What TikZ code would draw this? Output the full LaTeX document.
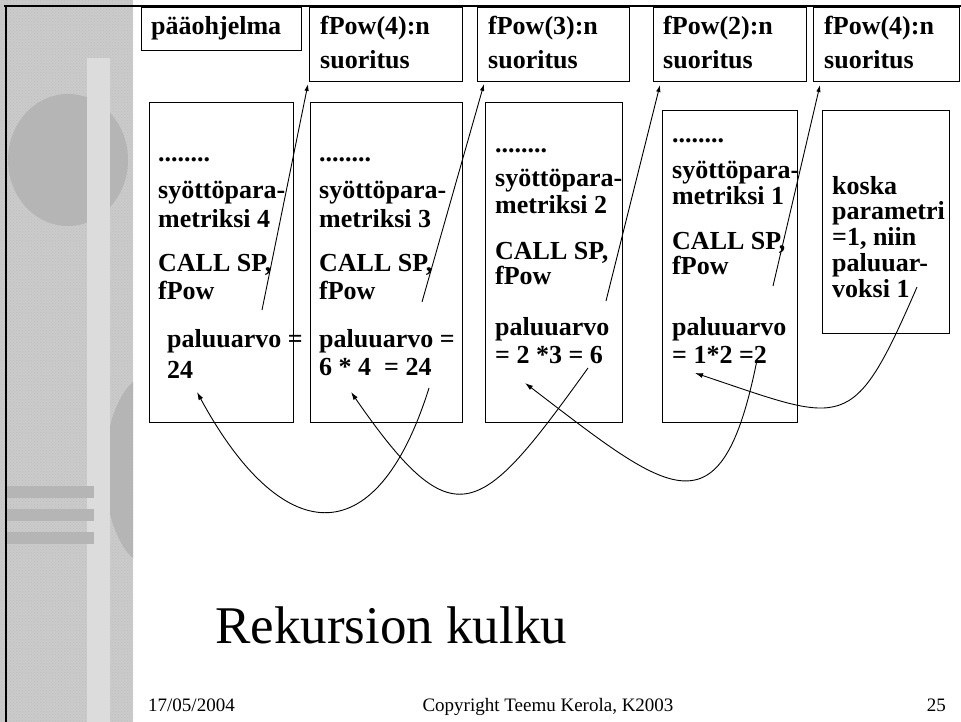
\documentclass[tikz,border=0pt]{standalone}
\usepackage{fontspec}
\setmainfont{Liberation Serif}
\usetikzlibrary{arrows.meta,patterns}
\definecolor{texbase}{HTML}{CBCBCB}
\definecolor{texdark}{HTML}{B5B5B5}
\definecolor{texlight}{HTML}{DCDCDC}
\definecolor{texdot}{HTML}{BEBEBE}
\newcommand\txtline[4]{\node[tb] (#1) at (#2,#3) {#4};}
\begin{document}
\begin{tikzpicture}[x=1pt,y=-1pt,
  bx/.style={draw=black,line width=1.1pt,inner sep=0pt,anchor=north west},
  tb/.style={font=\fontsize{26}{29}\selectfont\bfseries,inner sep=0pt,anchor=base west},
  call/.style={draw=black,line width=0.9pt,-{Latex[length=7pt,width=4.5pt]}},
  ret/.style={draw=black,line width=0.9pt,-{Latex[length=8pt,width=5pt]}},
  foot/.style={font=\fontsize{19}{22}\selectfont,inner sep=0pt},
  frameline/.style={line width=2.5pt}
]
\useasboundingbox (0,0) rectangle (961,722);
\fill[white] (0,0) rectangle (961,722);
% ---- left decorative band
\fill[texbase] (0,0) rectangle (133,722);
\fill[pattern=crosshatch dots,pattern color=texdot] (0,0) rectangle (133,722);
\fill[texdark] (68,160) ellipse [x radius=60pt,y radius=66pt];
\begin{scope}
  \clip (0,0) rectangle (133,722);
  \fill[texdark] (150,470) ellipse [x radius=45pt,y radius=95pt];
\end{scope}
\fill[texlight] (87,58) rectangle (110,722);
\fill[texdark] (6,486) rectangle (94,498);
\fill[texdark] (6,509) rectangle (94,521);
\fill[texdark] (6,532) rectangle (94,544);
\draw[frameline] (4,6) -- (961,6);
\draw[frameline] (6,5) -- (6,722);
% ---- header boxes
\node[bx,minimum width=160pt,minimum height=43pt] (h0) at (141,7) {};
\node[bx,minimum width=153pt,minimum height=74pt] (h1) at (309,7) {};
\node[bx,minimum width=152pt,minimum height=74pt] (h2) at (477,7) {};
\node[bx,minimum width=153pt,minimum height=74pt] (h3) at (653,7) {};
\node[bx,minimum width=146pt,minimum height=74pt] (h4) at (813,7) {};
\txtline{h0a}{151}{35}{pääohjelma}
\txtline{h1a}{320}{35}{fPow(4):n}
\txtline{h1b}{320}{69}{suoritus}
\txtline{h2a}{488}{35}{fPow(3):n}
\txtline{h2b}{488}{69}{suoritus}
\txtline{h3a}{663}{35}{fPow(2):n}
\txtline{h3b}{663}{69}{suoritus}
\txtline{h4a}{824}{35}{fPow(4):n}
\txtline{h4b}{824}{69}{suoritus}
% ---- body boxes
\node[bx,minimum width=144pt,minimum height=320pt] (b1) at (149,102) {};
\node[bx,minimum width=152pt,minimum height=320pt] (b2) at (310,102) {};
\node[bx,minimum width=137pt,minimum height=320pt] (b3) at (485,102) {};
\node[bx,minimum width=135pt,minimum height=312pt] (b4) at (662,110) {};
\node[bx,minimum width=127pt,minimum height=223pt] (b5) at (822,110) {};
% box 1
\txtline{a1}{158}{162}{........}
\txtline{a2}{158}{199}{syöttöpara-}
\txtline{a3}{158}{228}{metriksi 4}
\txtline{a4}{158}{271}{CALL SP,}
\txtline{a5}{158}{299}{fPow}
\txtline{a6}{167}{347}{paluuarvo =}
\txtline{a7}{167}{378}{24}
% box 2
\txtline{c1}{319}{162}{........}
\txtline{c2}{319}{199}{syöttöpara-}
\txtline{c3}{319}{228}{metriksi 3}
\txtline{c4}{319}{271}{CALL SP,}
\txtline{c5}{319}{299}{fPow}
\txtline{c6}{319}{347}{paluuarvo =}
\txtline{c7}{319}{375}{6 * 4 \ = 24}
% box 3
\txtline{d1}{495}{153}{........}
\txtline{d2}{495}{187}{syöttöpara-}
\txtline{d3}{495}{214}{metriksi 2}
\txtline{d4}{495}{259}{CALL SP,}
\txtline{d5}{495}{284}{fPow}
\txtline{d6}{495}{335}{paluuarvo}
\txtline{d7}{495}{363}{= 2 *3 = 6}
% box 4
\txtline{e1}{672}{143}{........}
\txtline{e2}{672}{179}{syöttöpara-}
\txtline{e3}{672}{205}{metriksi 1}
\txtline{e4}{672}{249}{CALL SP,}
\txtline{e5}{672}{274}{fPow}
\txtline{e6}{672}{335}{paluuarvo}
\txtline{e7}{672}{363}{= 1*2 =2}
% box 5
\txtline{f1}{832}{195}{koska}
\txtline{f2}{832}{219}{parametri}
\txtline{f3}{832}{245}{=1, niin}
\txtline{f4}{832}{271}{paluuar-}
\txtline{f5}{832}{297}{voksi 1}
% ---- call arrows
\coordinate (k1) at (262,310);
\coordinate (k2) at (422,302);
\coordinate (k3) at (606,301);
\coordinate (k4) at (773,286);
\coordinate (t1) at (308,84);
\coordinate (t2) at (484,84);
\coordinate (t3) at (660,85);
\coordinate (t4) at (820,85);
\draw[call] (k1) -- (t1);
\draw[call] (k2) -- (t2);
\draw[call] (k3) -- (t3);
\draw[call] (k4) -- (t4);
% ---- return arrows
\coordinate (s1) at (429,388);
\coordinate (r1) at (197,392);
\coordinate (s2) at (588,368);
\coordinate (r2) at (351,392);
\coordinate (s3) at (757,360);
\coordinate (r3) at (525,383);
\coordinate (s4) at (917,287);
\coordinate (r4) at (695,373);
\draw[ret] (s1) .. controls (375,560) and (280,545) .. (r1);
\draw[ret] (s2) .. controls (480,518) and (455,542) .. (r2);
\draw[ret] (s3) .. controls (721,540) and (669,493) .. (r3);
\draw[ret] (s4) .. controls (852,437) and (845,423) .. (r4);
% ---- title and footer
\node[font=\fontsize{53}{60}\selectfont,inner sep=0pt,anchor=base west] (title) at (215,643) {Rekursion kulku};
\node[foot,anchor=base west] (date) at (148,711) {17/05/2004};
\node[foot,anchor=base] (copy) at (548,711) {Copyright Teemu Kerola, K2003};
\node[foot,anchor=base east] (page) at (946,711) {25};
\end{tikzpicture}
\end{document}
